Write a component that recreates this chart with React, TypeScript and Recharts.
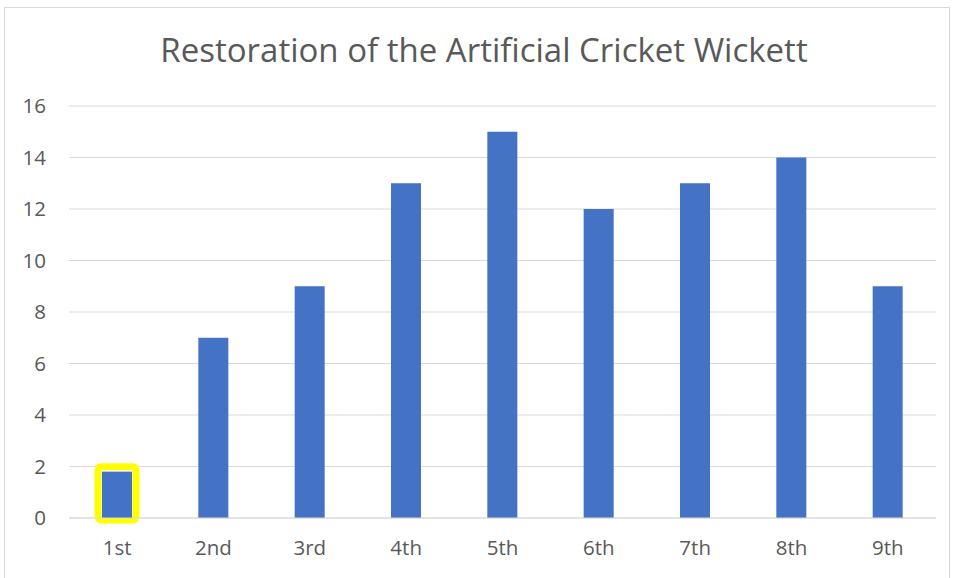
import { Bar, BarChart, CartesianGrid, XAxis, YAxis } from "recharts";

const innings = ["1st", "2nd", "3rd", "4th", "5th", "6th", "7th", "8th", "9th"];
const runs = [1.8, 7, 9, 13, 15, 12, 13, 14, 9];
const yTicks = [0, 2, 4, 6, 8, 10, 12, 14, 16];
const highlighted = ["1st"];

const data = innings.map((name, i) => ({ name, runs: runs[i] }));

// eslint-disable-next-line @typescript-eslint/no-explicit-any
const BarShape = (props: any) => {
  const { x, y, width, height, payload } = props;
  const mark = highlighted.includes(payload.name);
  return (
    <g>
      {mark && (
        <rect
          x={x - 4}
          y={y - 5}
          width={width + 8}
          height={height + 7}
          rx={3}
          fill="none"
          stroke="#ffff00"
          strokeWidth={7}
        />
      )}
      <rect x={x} y={y} width={width} height={height} fill="#4472c4" />
    </g>
  );
};

export default function App() {
  const font = "'Open Sans', 'Liberation Sans', sans-serif";
  return (
    <div
      style={{
        position: "absolute",
        left: 0,
        top: 0,
        width: 955,
        height: 578,
        background: "#fff",
        fontFamily: font,
      }}
    >
      <div
        style={{
          position: "absolute",
          left: 4,
          top: 7,
          width: 946,
          height: 580,
          border: "1px solid #d9d9d9",
          boxSizing: "border-box",
        }}
      />
      <div
        style={{
          position: "absolute",
          left: 0,
          top: 27,
          width: 968,
          textAlign: "center",
          fontSize: 33,
          lineHeight: "46px",
          color: "#595959",
        }}
      >
        Restoration of the Artificial Cricket Wickett
      </div>
      <BarChart
        width={955}
        height={578}
        data={data}
        margin={{ top: 106, right: 19, bottom: 20, left: 0 }}
        style={{ position: "absolute", left: 0, top: 0 }}
      >
        <CartesianGrid vertical={false} stroke="#d9d9d9" />
        <XAxis
          dataKey="name"
          height={40}
          tickLine={false}
          tickSize={0}
          tickMargin={22}
          axisLine={{ stroke: "#d9d9d9" }}
          tick={{ fontSize: 20.5, fill: "#595959", fontFamily: font }}
        />
        <YAxis
          width={69}
          domain={[0, 16]}
          ticks={yTicks}
          axisLine={false}
          tickLine={false}
          tickSize={0}
          tickMargin={23}
          tick={{ fontSize: 20.5, fill: "#595959", fontFamily: font }}
        />
        <Bar
          dataKey="runs"
          barSize={30}
          shape={BarShape}
          isAnimationActive={false}
        />
      </BarChart>
    </div>
  );
}
